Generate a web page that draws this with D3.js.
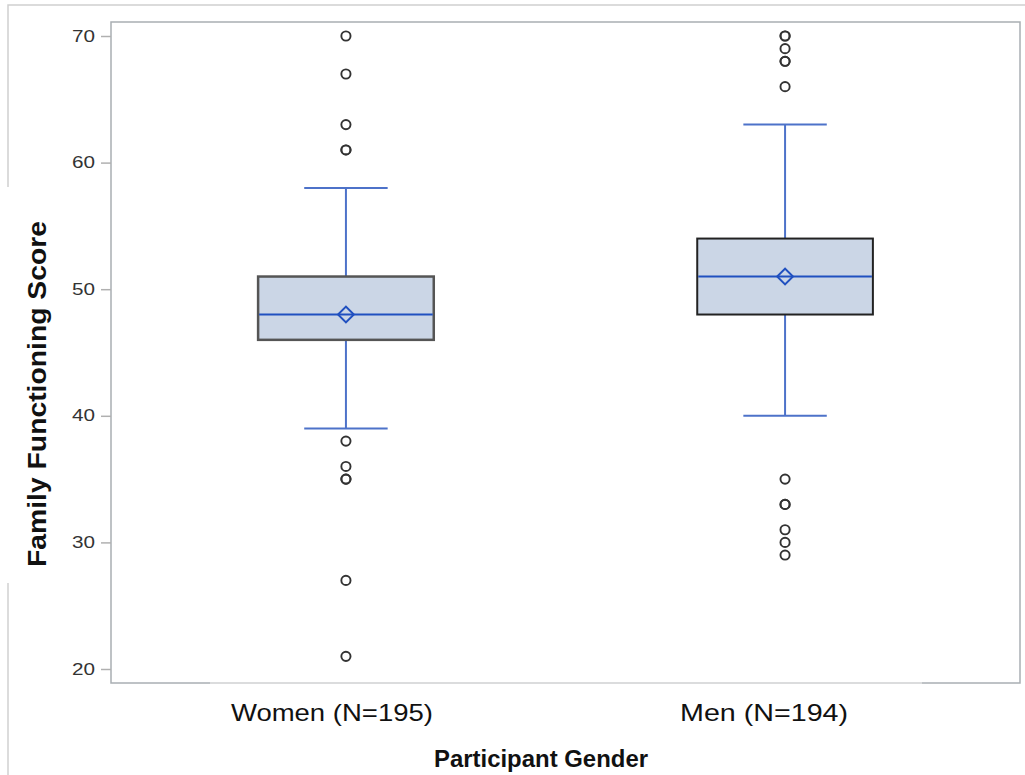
<!DOCTYPE html>
<html>
<head>
<meta charset="utf-8">
<script src="https://cdn.jsdelivr.net/npm/d3@7"></script>
<style>
  body { margin: 0; background: #fff; }
  text { font-family: Arial, "Liberation Sans", sans-serif; }
</style>
</head>
<body>
<svg id="chart" width="1025" height="775"></svg>
<script>
// ---- data ----
const groups = ["Women (N=195)", "Men (N=194)"];
const q1 = [46, 48];
const medians = [48, 51];
const q3 = [51, 54];
const means = [48, 51];
const whiskLo = [39, 40];
const whiskHi = [58, 63];
const outliers = [
  [70, 67, 63, 61, 61, 38, 36, 35, 35, 27, 21],
  [70, 70, 69, 68, 68, 66, 35, 33, 33, 31, 30, 29]
];
const yTicks = [20, 30, 40, 50, 60, 70];

const svg = d3.select("#chart");
const plotL = 111, plotR = 1020, plotT = 22, plotB = 683;

const x = d3.scalePoint().domain(groups).range([plotL, plotR]).padding(0.535);
const y = d3.scaleLinear().domain([20, 70]).range([669, 36]);
const step = x.step();
const boxW = step * 0.4, capW = step * 0.19;

// outer frame lines (partial, as in the original)
const frame = svg.append("g").attr("stroke", "#d0d0d0").attr("stroke-width", 1.5).attr("fill", "none");
frame.append("path").attr("d", "M8,187 V5 H1025");
frame.append("path").attr("d", "M8,583 V775");

// plot frame
svg.append("rect")
  .attr("x", plotL).attr("y", plotT)
  .attr("width", plotR - plotL).attr("height", plotB - plotT)
  .attr("fill", "none").attr("stroke", "#a9aeb3").attr("stroke-width", 1.5);
svg.append("line")
  .attr("x1", 210).attr("x2", 922).attr("y1", plotB).attr("y2", plotB)
  .attr("stroke", "#e4e4e4").attr("stroke-width", 1.6);

// y axis
const yAxis = svg.append("g")
  .attr("transform", `translate(${plotL},0)`)
  .call(d3.axisLeft(y).tickValues(yTicks).tickSize(10).tickPadding(6));
yAxis.select(".domain").remove();
yAxis.selectAll(".tick line").attr("stroke", "#b0b0b0").attr("stroke-width", 1.5);
yAxis.selectAll(".tick text")
  .attr("fill", "#333").style("font-size", "16px")
  .attr("textLength", 23).attr("lengthAdjust", "spacingAndGlyphs");

// x axis labels (the source image is a bit stretched sideways)
const labelLen = [202, 168];
const labelShift = [-14, -21];
svg.append("g").selectAll("text").data(groups).join("text")
  .attr("x", (d, i) => x(d) + labelShift[i]).attr("y", 721)
  .attr("text-anchor", "middle")
  .style("font-size", "24px").attr("fill", "#111")
  .attr("textLength", (d, i) => labelLen[i]).attr("lengthAdjust", "spacingAndGlyphs")
  .text(d => d);

// titles
svg.append("text")
  .attr("x", 541).attr("y", 767).attr("text-anchor", "middle")
  .style("font-size", "24px").style("font-weight", "bold").attr("fill", "#111")
  .attr("textLength", 214).attr("lengthAdjust", "spacingAndGlyphs")
  .text("Participant Gender");
svg.append("text")
  .attr("transform", "translate(46,394) rotate(-90)").attr("text-anchor", "middle")
  .style("font-size", "25px").style("font-weight", "bold").attr("fill", "#111")
  .attr("textLength", 346).attr("lengthAdjust", "spacingAndGlyphs")
  .text("Family Functioning Score");

// boxes
const whiskColor = "#4d72c9", medColor = "#2050c0";
groups.forEach((g, i) => {
  const cx = x(g);
  const gb = svg.append("g");
  // whiskers
  gb.append("line").attr("x1", cx).attr("x2", cx).attr("y1", y(q3[i])).attr("y2", y(whiskHi[i]))
    .attr("stroke", whiskColor).attr("stroke-width", 2);
  gb.append("line").attr("x1", cx).attr("x2", cx).attr("y1", y(q1[i])).attr("y2", y(whiskLo[i]))
    .attr("stroke", whiskColor).attr("stroke-width", 2);
  [whiskHi[i], whiskLo[i]].forEach(v => {
    gb.append("line").attr("x1", cx - capW / 2).attr("x2", cx + capW / 2)
      .attr("y1", y(v)).attr("y2", y(v))
      .attr("stroke", whiskColor).attr("stroke-width", 2);
  });
  // box
  gb.append("rect")
    .attr("x", cx - boxW / 2).attr("y", y(q3[i]))
    .attr("width", boxW).attr("height", y(q1[i]) - y(q3[i]))
    .attr("fill", "#cbd6e6")
    .attr("stroke", i === 0 ? "#555" : "#222").attr("stroke-width", i === 0 ? 2.5 : 2);
  // median
  gb.append("line").attr("x1", cx - boxW / 2 + 1).attr("x2", cx + boxW / 2 - 1)
    .attr("y1", y(medians[i])).attr("y2", y(medians[i]))
    .attr("stroke", medColor).attr("stroke-width", 2);
  // mean diamond
  gb.append("path")
    .attr("transform", `translate(${cx},${y(means[i])}) rotate(45)`)
    .attr("d", d3.symbol(d3.symbolSquare, 125)())
    .attr("fill", "none").attr("stroke", medColor).attr("stroke-width", 2);
  // outliers
  gb.selectAll("circle").data(outliers[i]).join("circle")
    .attr("cx", cx).attr("cy", d => y(d)).attr("r", 4.6)
    .attr("fill", "none").attr("stroke", "#333").attr("stroke-width", 1.9);
});
</script>
</body>
</html>
